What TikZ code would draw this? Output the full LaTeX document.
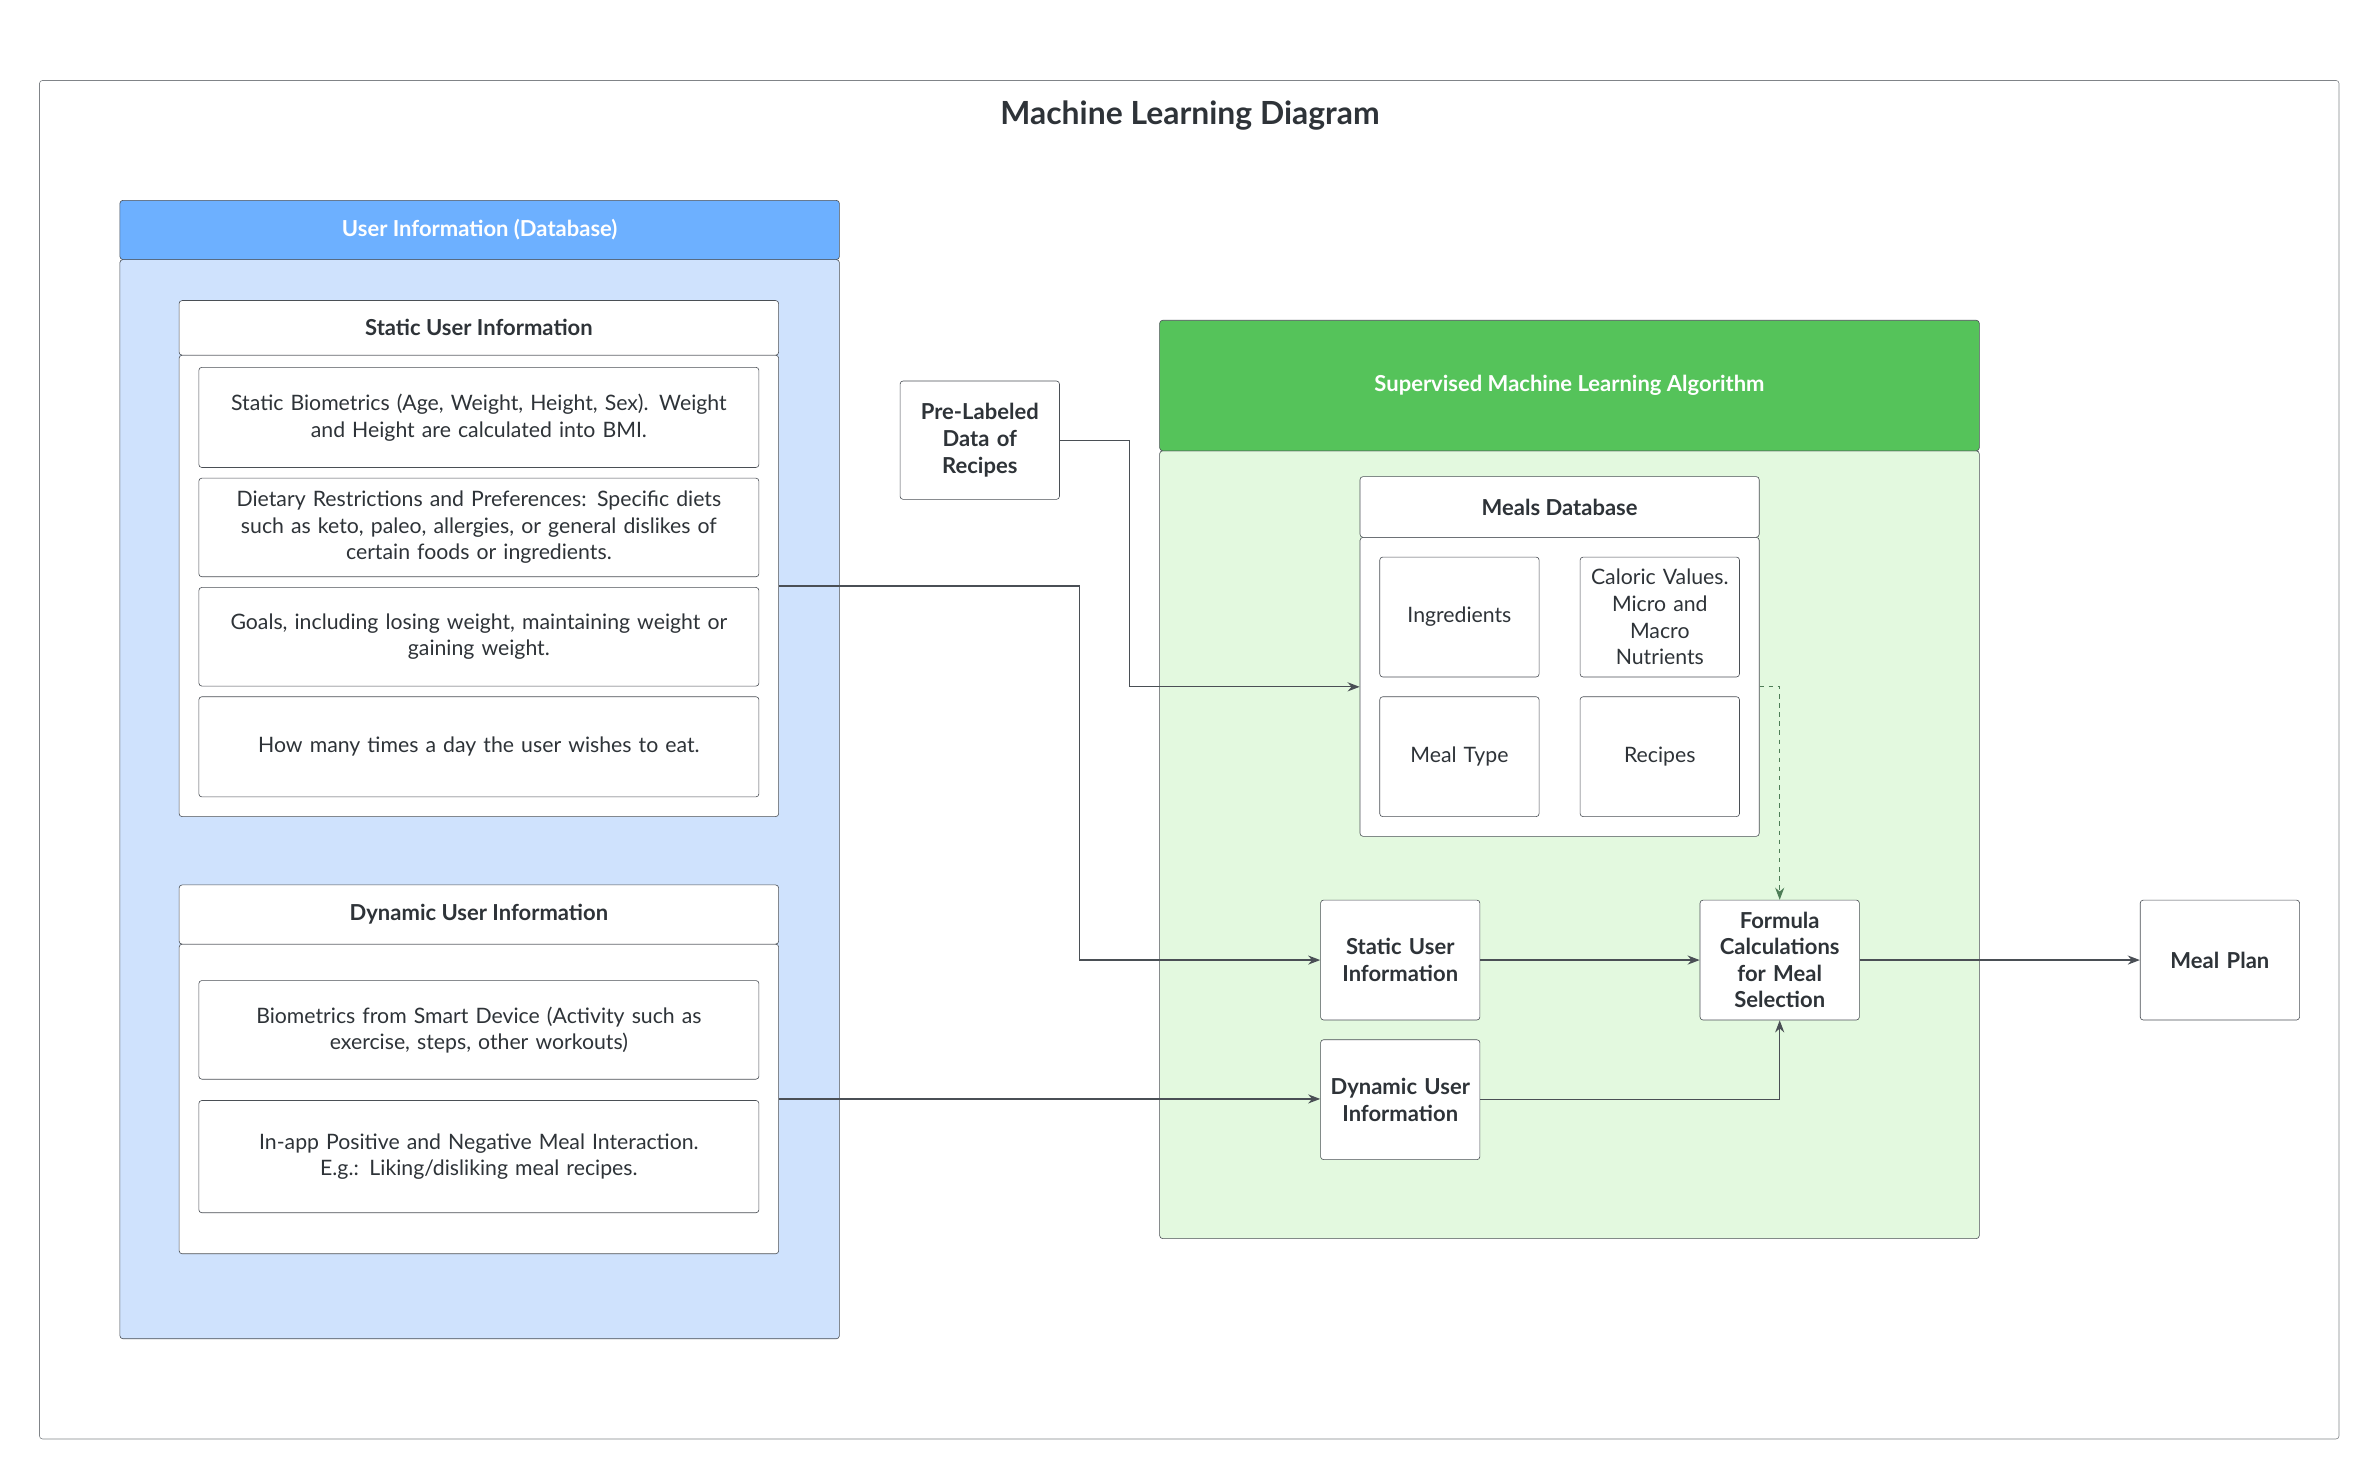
\documentclass[tikz,border=0pt]{standalone}
\usepackage{fontspec}
\setmainfont{Lato}
\usetikzlibrary{arrows.meta}
\definecolor{edge}{HTML}{4A4F55}
\definecolor{bluehead}{HTML}{6DB0FF}
\definecolor{bluebody}{HTML}{CFE2FD}
\definecolor{greenhead}{HTML}{55C35A}
\definecolor{greenbody}{HTML}{E3F9DF}
\definecolor{txt}{HTML}{2E3338}
\tikzset{
  box/.style={draw=edge, fill=white, rounded corners=2pt, align=center,
    inner sep=2pt, font=\fontsize{14}{17.5}\selectfont, text=txt},
  head/.style={box, font=\bfseries\fontsize{14.5}{17.5}\selectfont},
  link/.style={draw=edge, line width=0.8pt, -{Stealth[length=8pt,width=6pt]}},
}
\begin{document}
\hyphenpenalty=10000 \exhyphenpenalty=10000
\begin{tikzpicture}[x=1pt,y=-1pt]
  \useasboundingbox (0,0) rectangle (1568,975);
  \draw[edge!70, rounded corners=2pt] (26,53) rectangle (1541,948);
  \node[font=\bfseries\fontsize{21}{25}\selectfont, text=txt] (title) at (784,76) {Machine Learning Diagram};
  % user information
  \node[head, fill=bluebody, minimum width=474pt, minimum height=711pt] (userbody) at (316,526.5) {};
  \node[head, fill=bluehead, text=white, minimum width=474pt, minimum height=39pt] (userhead) at (316,151.5) {User Information (Database)};
  \node[head, minimum width=395pt, minimum height=304pt] (staticbody) at (315.5,386) {};
  \node[head, minimum width=395pt, minimum height=36pt] (statichead) at (315.5,216) {Static User Information};
  \node[box, minimum width=369pt, minimum height=66pt, text width=360pt] (bio) at (315.5,275) {Static Biometrics (Age, Weight, Height, Sex). Weight\\and Height are calculated into BMI.};
  \node[box, minimum width=369pt, minimum height=65pt, text width=360pt] (diet) at (315.5,347.5) {Dietary Restrictions and Preferences: Specific diets\\such as keto, paleo, allergies, or general dislikes of\\certain foods or ingredients.};
  \node[box, minimum width=369pt, minimum height=65pt, text width=360pt] (goals) at (315.5,419.5) {Goals, including losing weight, maintaining weight or\\gaining weight.};
  \node[box, minimum width=369pt, minimum height=66pt, text width=360pt] (times) at (315.5,492) {How many times a day the user wishes to eat.};
  \node[head, minimum width=395pt, minimum height=204pt] (dynbody) at (315.5,724) {};
  \node[head, minimum width=395pt, minimum height=39pt] (dynhead) at (315.5,602.5) {Dynamic User Information};
  \node[box, minimum width=369pt, minimum height=65pt, text width=360pt] (smart) at (315.5,678.5) {Biometrics from Smart Device (Activity such as\\exercise, steps, other workouts)};
  \node[box, minimum width=369pt, minimum height=74pt, text width=360pt] (inapp) at (315.5,762) {In-app Positive and Negative Meal Interaction.\\E.g.: Liking/disliking meal recipes.};
  % supervised algorithm
  \node[head, fill=greenbody, minimum width=540pt, minimum height=519pt] (algbody) at (1034,556.5) {};
  \node[head, fill=greenhead, text=white, minimum width=540pt, minimum height=86pt] (alghead) at (1034,254) {Supervised Machine Learning Algorithm};
  \node[head, minimum width=105pt, minimum height=78pt, text width=100pt] (prelab) at (645.5,290) {Pre-Labeled Data of Recipes};
  \node[head, minimum width=263pt, minimum height=197pt] (mealsbody) at (1027.5,452.5) {};
  \node[head, minimum width=263pt, minimum height=40pt] (mealshead) at (1027.5,334) {Meals Database};
  \node[box, minimum width=105pt, minimum height=79pt, text width=100pt] (ingr) at (961.5,406.5) {Ingredients};
  \node[box, minimum width=105pt, minimum height=79pt, text width=100pt] (calor) at (1093.5,406.5) {Caloric Values.\\Micro and\\Macro\\Nutrients};
  \node[box, minimum width=105pt, minimum height=79pt, text width=100pt] (mtype) at (961.5,498.5) {Meal Type};
  \node[box, minimum width=105pt, minimum height=79pt, text width=100pt] (recipes) at (1093.5,498.5) {Recipes};
  \node[head, minimum width=105pt, minimum height=79pt, text width=100pt] (statnode) at (922.5,632.5) {Static User Information};
  \node[head, minimum width=105pt, minimum height=79pt, text width=100pt] (dynnode) at (922.5,724.5) {Dynamic User Information};
  \node[head, minimum width=105pt, minimum height=79pt, text width=100pt] (formula) at (1172.5,632.5) {Formula Calculations for Meal Selection};
  \node[head, minimum width=105pt, minimum height=79pt, text width=100pt] (mealplan) at (1462.5,632.5) {Meal Plan};
  % connectors
  \draw[link] (staticbody.east) -- ++(198,0) |- (statnode.west);
  \draw[link] (dynbody.east) -- (dynbody.east -| dynnode.west);
  \draw[link] (prelab.east) -- ++(46,0) |- (mealsbody.west);
  \draw[link, dashed, draw=greenhead!40!edge] (mealsbody.east) -| (formula.north);
  \draw[link] (statnode.east) -- (formula.west);
  \draw[link] (dynnode.east) -| (formula.south);
  \draw[link] (formula.east) -- (mealplan.west);
\end{tikzpicture}
\end{document}
